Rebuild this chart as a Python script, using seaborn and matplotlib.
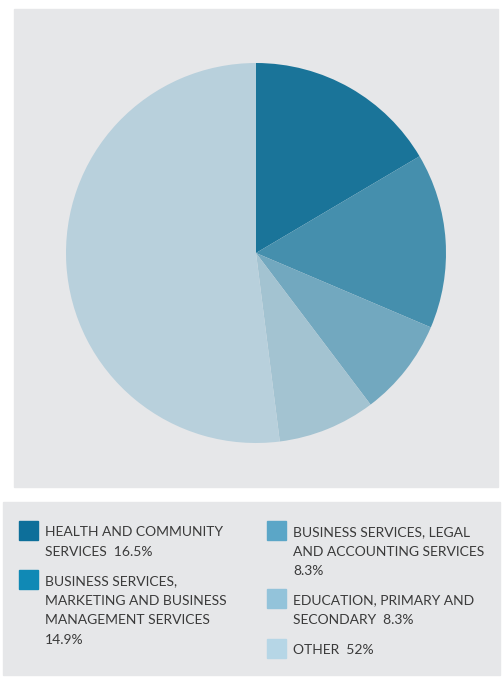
import matplotlib
matplotlib.use("Agg")
import matplotlib.pyplot as plt
import seaborn as sns
from matplotlib.patches import Rectangle

# Data
categories = [
    "HEALTH AND COMMUNITY\nSERVICES  16.5%",
    "BUSINESS SERVICES,\nMARKETING AND BUSINESS\nMANAGEMENT SERVICES\n14.9%",
    "BUSINESS SERVICES, LEGAL\nAND ACCOUNTING SERVICES\n8.3%",
    "EDUCATION, PRIMARY AND\nSECONDARY  8.3%",
    "OTHER  52%",
]
shares = [16.5, 14.9, 8.3, 8.3, 52.0]

pie_colors = ["#1a7499", "#458fad", "#72a8bf", "#a3c3d1", "#b8d0dc"]
legend_colors = ["#0d6f9a", "#1089b5", "#5ba6c7", "#93c3da", "#b6d6e6"]

sns.set_theme(style="white")
plt.rcParams["font.family"] = ["Lato", "DejaVu Sans"]

W, H = 504, 677
fig = plt.figure(figsize=(W / 100, H / 100), dpi=100)
fig.patch.set_facecolor("white")


def fx(x):
    return x / W


def fy(y):
    return 1 - y / H


# grey panels
panel = "#e6e7e9"
fig.patches.append(Rectangle((fx(14), fy(487)), (498 - 14) / W, (487 - 9) / H,
                             transform=fig.transFigure, color=panel, zorder=-2))
fig.patches.append(Rectangle((fx(3), fy(675)), (500 - 3) / W, (675 - 502) / H,
                             transform=fig.transFigure, color=panel, zorder=-2))

# pie
cx, cy, r = 256, 253, 190
ax = fig.add_axes([fx(cx - r), fy(cy + r), 2 * r / W, 2 * r / H])
ax.set_zorder(2)
ax.pie(shares, colors=pie_colors, startangle=90, counterclock=False,
       wedgeprops=dict(linewidth=0))
ax.set_aspect("auto")
ax.set_xlim(-1, 1)
ax.set_ylim(-1, 1)
ax.axis("off")
ax.patch.set_alpha(0)

# legend, two columns
slots = [(19, 521), (19, 570), (267, 521), (267, 589), (267, 639)]
line_h = 19.6
for (sx, sy), lab, col in zip(slots, categories, legend_colors):
    fig.patches.append(Rectangle((fx(sx), fy(sy + 19)), 19 / W, 19 / H,
                                 transform=fig.transFigure, color=col, zorder=1))
    for i, line in enumerate(lab.split("\n")):
        fig.text(fx(sx + 26), fy(sy + 15 + i * line_h), line, fontsize=10,
                 color="#3a3a3a", va="baseline", ha="left")

fig.savefig("out.png", dpi=100)
